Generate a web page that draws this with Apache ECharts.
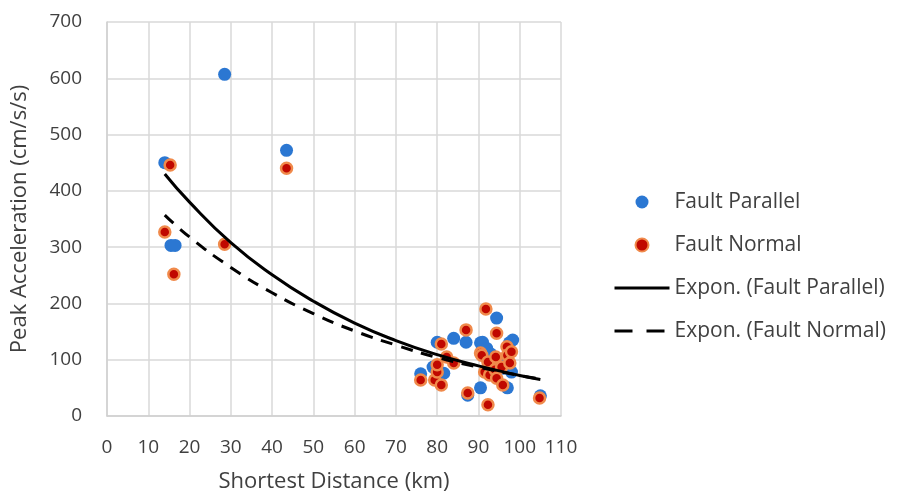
<!DOCTYPE html>
<html>
<head>
<meta charset="utf-8">
<script src="https://cdn.jsdelivr.net/npm/echarts@6/dist/echarts.min.js"></script>
<style>html,body{margin:0;padding:0;background:#fff;}#c{width:903px;height:498px;}</style>
</head>
<body>
<div id="c"></div>
<script>
// Fault Parallel [distance km, peak accel cm/s/s]
const faultParallel = [
  [14,450],[15.5,303],[16.5,303],[28.5,607],[43.5,472],
  [76,75],[79,87],[80,131],[81.6,76],[84,138],[87,131],[87.4,37],
  [90.5,130],[90.5,50],[91,131],[92,120],[93,110],[94.4,174],[95,100],
  [96,85],[97,50],[98,78],[98.3,135],[97.5,130],[105,36]
];
// Fault Normal
const faultNormal = [
  [15.3,446],[14,327],[16.2,252],[28.5,305],[43.5,440],
  [76,64],[79.4,64],[80,78],[80,91],[81,128],[81,55],[82.3,105],[84,94],
  [87,153],[87.4,41],[90.5,112],[90.8,108],[91.8,190],[91.5,78],[92.3,96],
  [92.7,73],[92.3,20],[94.2,105],[94,82],[94.4,67],[94.4,147],[95.6,87],
  [95.9,55],[96.9,123],[97,108],[97.6,94],[98,114],[104.8,32]
];
// Trend lines
const trendParallel = [
  [14,430],[20,380],[30,308],[40,251],[50,204],[60,165],[70,134],
  [80,109],[90,89],[100,72],[105,65]
];
const trendNormal = [
  [14,357],[20,318],[30,264],[40,219],[50,182],[60,151],[70,126],
  [80,104],[90,87],[100,72],[105,66]
];
const xTicks = [0,10,20,30,40,50,60,70,80,90,100,110];
const yTicks = [0,100,200,300,400,500,600,700];

const font = '"Open Sans", "Noto Sans", sans-serif';
const txt = '#404040';
const chart = echarts.init(document.getElementById('c'));
chart.setOption({
  animation: false,
  backgroundColor: '#fff',
  grid: { left: 107, right: 342, top: 22, bottom: 82 },
  xAxis: {
    type: 'value', min: xTicks[0], max: xTicks[xTicks.length-1], interval: 10,
    name: 'Shortest Distance (km)', nameLocation: 'middle', nameGap: 55,
    nameTextStyle: { fontFamily: font, fontSize: 22, color: txt },
    axisLine: { show: true, lineStyle: { color: '#d0d0d0', width: 1.5 } },
    axisTick: { show: false },
    axisLabel: { fontFamily: font, fontSize: 19, color: txt, margin: 22 },
    splitLine: { show: true, lineStyle: { color: '#d9d9d9', width: 1.5 } }
  },
  yAxis: {
    type: 'value', min: yTicks[0], max: yTicks[yTicks.length-1], interval: 100,
    name: 'Peak Acceleration (cm/s/s)', nameLocation: 'middle', nameGap: 76,
    nameTextStyle: { fontFamily: font, fontSize: 22, color: txt },
    axisLine: { show: true, lineStyle: { color: '#d0d0d0', width: 1.5 } },
    axisTick: { show: false },
    axisLabel: { fontFamily: font, fontSize: 19, color: txt, margin: 25 },
    splitLine: { show: true, lineStyle: { color: '#d9d9d9', width: 1.5 } }
  },
  legend: {
    orient: 'vertical', left: 608, top: 184,
    itemWidth: 55, itemHeight: 13, itemGap: 17,
    textStyle: { fontFamily: font, fontSize: 21, color: txt, lineHeight: 26 },
    data: [
      { name: 'Fault Parallel', icon: 'circle' },
      { name: 'Fault Normal', icon: 'circle' },
      { name: 'Expon. (Fault Parallel)', itemStyle: { opacity: 0 }, lineStyle: { width: 3, color: '#000' } },
      { name: 'Expon. (Fault Normal)', itemStyle: { opacity: 0 }, lineStyle: { width: 3, color: '#000', type: [18, 14] } }
    ]
  },
  series: [
    {
      name: 'Fault Parallel', type: 'scatter', data: faultParallel,
      symbolSize: 13,
      itemStyle: { color: '#2b77d2', opacity: 1 }
    },
    {
      name: 'Fault Normal', type: 'scatter', data: faultNormal,
      symbolSize: 11,
      itemStyle: { color: '#c00800', borderColor: '#f08a4b', borderWidth: 2.5, opacity: 1 }
    },
    {
      name: 'Expon. (Fault Parallel)', type: 'line', data: trendParallel,
      smooth: true, symbol: 'none', z: 5,
      lineStyle: { color: '#000', width: 3 }, itemStyle: { color: '#000' }
    },
    {
      name: 'Expon. (Fault Normal)', type: 'line', data: trendNormal,
      smooth: true, symbol: 'none', z: 5,
      lineStyle: { color: '#000', width: 3, type: [12, 9] }, itemStyle: { color: '#000' }
    }
  ]
});
</script>
</body>
</html>
